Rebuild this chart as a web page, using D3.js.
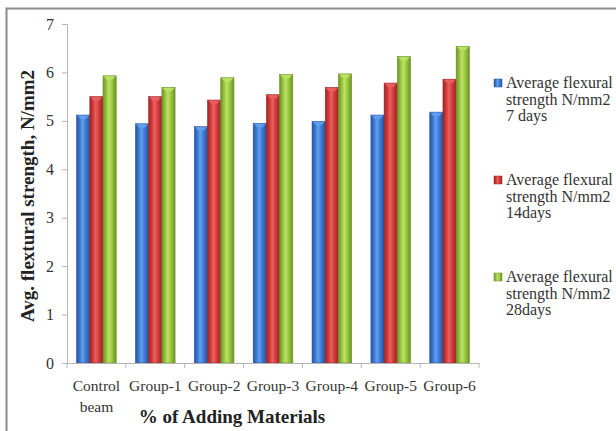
<!DOCTYPE html>
<html>
<head>
<meta charset="utf-8">
<script src="https://cdn.jsdelivr.net/npm/d3@7"></script>
</head>
<body style="margin:0;background:#fff">
<svg id="chart" width="616" height="431" style="display:block"></svg>
<script>
// Flexural strength by mix group and curing age
const categories = ["Control beam", "Group-1", "Group-2", "Group-3", "Group-4", "Group-5", "Group-6"];
const seriesNames = [
  "Average flexural strength N/mm2 7 days",
  "Average flexural strength N/mm2 14days",
  "Average flexural strength N/mm2 28days"
];
const legendLines = [
  ["Average flexural", "strength N/mm2", "7 days"],
  ["Average flexural", "strength N/mm2", "14days"],
  ["Average flexural", "strength N/mm2", "28days"]
];
const days7  = [5.12, 4.94, 4.88, 4.95, 4.99, 5.12, 5.18];
const days14 = [5.50, 5.50, 5.43, 5.54, 5.69, 5.78, 5.86];
const days28 = [5.93, 5.69, 5.89, 5.96, 5.97, 6.33, 6.54];
const yTicks = [0, 1, 2, 3, 4, 5, 6, 7];

const seriesValues = [days7, days14, days28];
const palette = [
  { base: "#3d7ad3", light: "#62a0ee", dark: "#27549f" },
  { base: "#d13a3a", light: "#ea6161", dark: "#a02323" },
  { base: "#98c43d", light: "#bde266", dark: "#6a922a" }
];
const serif = "\"Liberation Serif\", serif";

const svg = d3.select("#chart");
const defs = svg.append("defs");

palette.forEach((c, i) => {
  const g = defs.append("linearGradient").attr("id", "bar" + i)
    .attr("x1", "0%").attr("x2", "100%").attr("y1", "0%").attr("y2", "0%");
  g.append("stop").attr("offset", "0%").attr("stop-color", c.dark);
  g.append("stop").attr("offset", "25%").attr("stop-color", c.base);
  g.append("stop").attr("offset", "45%").attr("stop-color", c.light);
  g.append("stop").attr("offset", "70%").attr("stop-color", c.base);
  g.append("stop").attr("offset", "100%").attr("stop-color", c.dark);
});

// outer frame
svg.append("rect")
  .attr("x", 6.5).attr("y", 8.5).attr("width", 640).attr("height", 440)
  .attr("fill", "#fff").attr("stroke", "#8a8a8a").attr("stroke-width", 2);

const plot = { left: 67, right: 479, top: 24, bottom: 363 };

const x0 = d3.scaleBand().domain(categories).range([plot.left, plot.right]).padding(0);
const x1 = d3.scaleBand().domain(d3.range(seriesNames.length))
  .range([0, x0.bandwidth()]).paddingInner(0).paddingOuter(0.73);
const y = d3.scaleLinear().domain([0, 7]).range([plot.bottom, plot.top]);

// y axis
const yAxis = svg.append("g")
  .attr("transform", `translate(${plot.left},0)`)
  .call(d3.axisLeft(y).tickValues(yTicks).tickSize(5).tickPadding(8).tickFormat(d3.format("d")));
yAxis.select(".domain").attr("stroke", "#b5b5b5");
yAxis.selectAll(".tick line").attr("stroke", "#b5b5b5");
yAxis.selectAll(".tick text")
  .style("font-family", serif).style("font-size", "16px").attr("fill", "#333");

// bars
const groups = svg.append("g").selectAll("g")
  .data(categories)
  .join("g")
  .attr("transform", d => `translate(${x0(d)},0)`);

groups.selectAll("g.bar")
  .data((d, ci) => seriesValues.map((vals, si) => ({ si, v: vals[ci] })))
  .join("g")
  .attr("class", "bar")
  .each(function (d) {
    const g = d3.select(this);
    const bx = x1(d.si), bw = x1.bandwidth();
    const top = y(d.v);
    g.append("rect")
      .attr("x", bx).attr("y", top)
      .attr("width", bw).attr("height", y(0) - top)
      .attr("fill", `url(#bar${d.si})`)
      .attr("stroke", palette[d.si].dark).attr("stroke-width", 0.6);
    // bevelled cap
    g.append("path")
      .attr("d", `M${bx + 0.5},${top + 0.5} L${bx + bw - 0.5},${top + 0.5} L${bx + bw * 0.7},${top + 4} L${bx + bw * 0.3},${top + 4} Z`)
      .attr("fill", palette[d.si].light).attr("opacity", 0.9);
  });

// x axis
const xAxis = svg.append("g")
  .attr("transform", `translate(0,${plot.bottom})`)
  .call(d3.axisBottom(x0).tickSize(0).tickFormat(""));
xAxis.select(".domain").attr("stroke", "#b5b5b5");
xAxis.selectAll(".tick").remove();
const boundaries = categories.map(c => x0(c)).concat([plot.right]);
xAxis.selectAll("line.sep").data(boundaries).join("line")
  .attr("class", "sep")
  .attr("x1", d => d).attr("x2", d => d).attr("y1", 0).attr("y2", 5)
  .attr("stroke", "#b5b5b5");

// category labels
const labels = svg.append("g").selectAll("text")
  .data(categories)
  .join("text")
  .attr("text-anchor", "middle")
  .style("font-family", serif).style("font-size", "15.5px")
  .attr("fill", "#333")
  .attr("transform", d => `translate(${x0(d) + x0.bandwidth() / 2},391)`);
labels.each(function (d) {
  const t = d3.select(this);
  const parts = d === "Control beam" ? ["Control", "beam"] : [d];
  parts.forEach((p, i) => t.append("tspan").attr("x", 0).attr("dy", i === 0 ? 0 : 21).text(p));
});

// axis titles
svg.append("text")
  .attr("x", 232).attr("y", 423)
  .attr("text-anchor", "middle")
  .style("font-family", serif).style("font-size", "19px").style("font-weight", "bold")
  .attr("fill", "#222")
  .text("% of Adding Materials");

svg.append("text")
  .attr("transform", "translate(34,196) rotate(-90)")
  .attr("text-anchor", "middle")
  .style("font-family", serif).style("font-size", "19px").style("font-weight", "bold")
  .attr("fill", "#222")
  .text("Avg. flextural strength, N/mm2");

// legend
const legend = svg.append("g").selectAll("g")
  .data(seriesNames)
  .join("g")
  .attr("transform", (d, i) => `translate(494,${88 + i * 97})`);
legend.append("rect")
  .attr("x", 0).attr("y", -9).attr("width", 8).attr("height", 8)
  .attr("fill", (d, i) => `url(#bar${i})`)
  .attr("stroke", (d, i) => palette[i].dark).attr("stroke-width", 0.5);
legend.append("text")
  .style("font-family", serif).style("font-size", "16px")
  .attr("fill", "#333")
  .each(function (d, i) {
    const t = d3.select(this);
    legendLines[i].forEach((line, j) =>
      t.append("tspan").attr("x", 12).attr("dy", j === 0 ? 0 : 16.5).text(line));
  });
</script>
</body>
</html>
